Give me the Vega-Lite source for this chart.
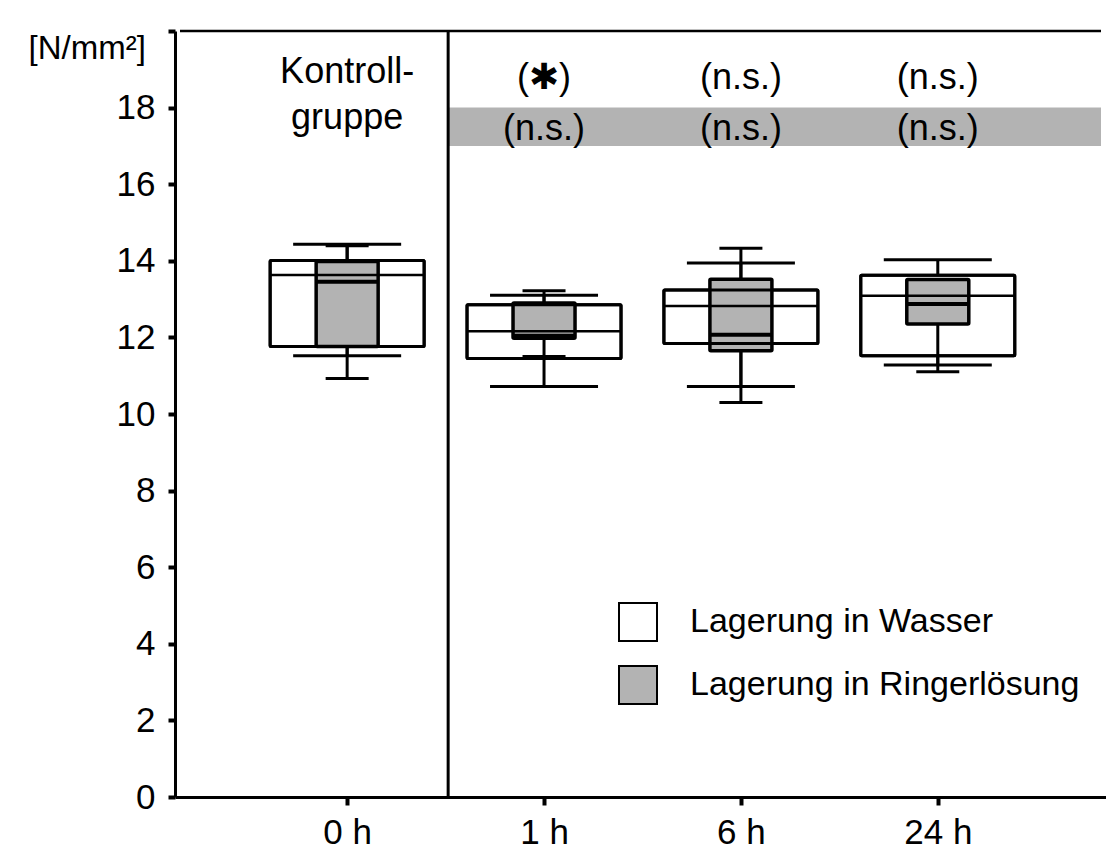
{
  "$schema": "https://vega.github.io/schema/vega-lite/v6.json",
  "width": 931,
  "height": 766,
  "autosize": {"type": "none"},
  "padding": {"left": 175, "top": 31, "right": 0, "bottom": 54},
  "background": "white",
  "config": {"view": {"stroke": null}, "font": "Liberation Sans"},
  "datasets": {
    "boxes": [
      {"zeit": "0 h", "pos": 0, "medium": "Lagerung in Wasser", "min": 11.52, "q1": 11.76, "median": 13.63, "q3": 14.01, "max": 14.43},
      {"zeit": "0 h", "pos": 0, "medium": "Lagerung in Ringerlösung", "min": 10.93, "q1": 11.76, "median": 13.45, "q3": 13.98, "max": 14.39},
      {"zeit": "1 h", "pos": 1, "medium": "Lagerung in Wasser", "min": 10.72, "q1": 11.45, "median": 12.16, "q3": 12.85, "max": 13.10},
      {"zeit": "1 h", "pos": 1, "medium": "Lagerung in Ringerlösung", "min": 11.50, "q1": 11.98, "median": 12.04, "q3": 12.90, "max": 13.22},
      {"zeit": "6 h", "pos": 2, "medium": "Lagerung in Wasser", "min": 10.72, "q1": 11.84, "median": 12.82, "q3": 13.24, "max": 13.94},
      {"zeit": "6 h", "pos": 2, "medium": "Lagerung in Ringerlösung", "min": 10.30, "q1": 11.65, "median": 12.07, "q3": 13.52, "max": 14.33},
      {"zeit": "24 h", "pos": 3, "medium": "Lagerung in Wasser", "min": 11.28, "q1": 11.52, "median": 13.09, "q3": 13.62, "max": 14.03},
      {"zeit": "24 h", "pos": 3, "medium": "Lagerung in Ringerlösung", "min": 11.10, "q1": 12.35, "median": 12.87, "q3": 13.51, "max": 13.51}
    ],
    "annot": [
      {"pos": 0, "y": 18.92, "label": "Kontroll-"},
      {"pos": 0, "y": 17.74, "label": "gruppe"},
      {"pos": 1, "y": 18.78, "label": "(✱)"},
      {"pos": 2, "y": 18.78, "label": "(n.s.)"},
      {"pos": 3, "y": 18.78, "label": "(n.s.)"},
      {"pos": 1, "y": 17.45, "label": "(n.s.)"},
      {"pos": 2, "y": 17.45, "label": "(n.s.)"},
      {"pos": 3, "y": 17.45, "label": "(n.s.)"}
    ],
    "band": [{"pos": 0.513, "pos2": 3.829, "y1": 17, "y2": 18}],
    "frame": [{"pos": -0.849, "pos2": 3.829, "y": 20}],
    "divider": [{"pos": 0.513}]
  },
  "encoding": {
    "x": {
      "field": "pos",
      "type": "quantitative",
      "scale": {"domain": [-0.849, 3.829], "nice": false, "zero": false},
      "axis": {
        "values": [0, 1, 2, 3],
        "labelExpr": "['0 h','1 h','6 h','24 h'][datum.value]",
        "title": null,
        "grid": false,
        "domainColor": "black",
        "domainWidth": 3,
        "tickColor": "black",
        "tickSize": 8,
        "tickWidth": 4,
        "labelFontSize": 35,
        "labelColor": "black",
        "labelPadding": 10,
        "labelFont": "Liberation Sans"
      }
    }
  },
  "layer": [
    {
      "data": {"name": "band"},
      "mark": {"type": "rect", "fill": "#b3b3b3"},
      "encoding": {
        "x2": {"field": "pos2"},
        "y": {
          "field": "y1",
          "type": "quantitative",
          "scale": {"domain": [0, 20], "nice": false, "zero": true},
          "axis": {
            "values": [0, 2, 4, 6, 8, 10, 12, 14, 16, 18, 20],
            "labelExpr": "datum.value == 20 ? '' : datum.label",
            "title": "[N/mm²]",
            "titleAngle": 0,
            "titleAlign": "left",
            "titleBaseline": "middle",
            "titleX": -147,
            "titleY": 17,
            "titleFontSize": 33,
            "titleFontWeight": "normal",
            "titleColor": "black",
            "titleFont": "Liberation Sans",
            "grid": false,
            "domainColor": "black",
            "domainWidth": 3,
            "tickColor": "black",
            "tickSize": 7,
            "tickWidth": 4,
            "labelFontSize": 35,
            "labelColor": "black",
            "labelPadding": 13,
            "labelFont": "Liberation Sans"
          }
        },
        "y2": {"field": "y2"}
      }
    },
    {
      "data": {"name": "frame"},
      "mark": {"type": "rule", "color": "black", "strokeWidth": 2.5},
      "encoding": {"x2": {"field": "pos2"}, "y": {"field": "y", "type": "quantitative"}}
    },
    {
      "data": {"name": "divider"},
      "mark": {"type": "rule", "color": "black", "strokeWidth": 3},
      "encoding": {}
    },
    {
      "data": {"name": "boxes"},
      "transform": [{"filter": "datum.medium == 'Lagerung in Wasser'"}],
      "mark": {"type": "rule", "color": "black", "strokeWidth": 3},
      "encoding": {"y": {"field": "min", "type": "quantitative"}, "y2": {"field": "max"}}
    },
    {
      "data": {"name": "boxes"},
      "transform": [{"filter": "datum.medium == 'Lagerung in Wasser'"}],
      "mark": {"type": "bar", "orient": "vertical", "width": 154, "stroke": "black", "strokeWidth": 3, "cornerRadius": 1},
      "encoding": {
        "y": {"field": "q1", "type": "quantitative"},
        "y2": {"field": "q3"},
        "fill": {
          "field": "medium",
          "type": "nominal",
          "scale": {"domain": ["Lagerung in Wasser", "Lagerung in Ringerlösung"], "range": ["#ffffff", "#b3b3b3"]},
          "legend": {
            "orient": "none",
            "legendX": 443,
            "legendY": 571,
            "title": null,
            "symbolType": "square",
            "symbolSize": 1444,
            "symbolStrokeColor": "black",
            "symbolStrokeWidth": 2,
            "symbolOpacity": 1,
            "labelFontSize": 34,
            "labelColor": "black",
            "labelOffset": 32,
            "rowPadding": 17,
            "labelFont": "Liberation Sans",
            "labelLimit": 600
          }
        }
      }
    },
    {
      "data": {"name": "boxes"},
      "transform": [{"filter": "datum.medium == 'Lagerung in Ringerlösung'"}],
      "mark": {"type": "rule", "color": "black", "strokeWidth": 3},
      "encoding": {"y": {"field": "min", "type": "quantitative"}, "y2": {"field": "max"}}
    },
    {
      "data": {"name": "boxes"},
      "transform": [{"filter": "datum.medium == 'Lagerung in Ringerlösung'"}],
      "mark": {"type": "bar", "orient": "vertical", "width": 62, "stroke": "black", "strokeWidth": 3.5, "cornerRadius": 1},
      "encoding": {
        "y": {"field": "q1", "type": "quantitative"},
        "y2": {"field": "q3"},
        "fill": {"field": "medium", "type": "nominal"}
      }
    },
    {
      "data": {"name": "boxes"},
      "transform": [{"filter": "datum.medium == 'Lagerung in Wasser'"}],
      "mark": {"type": "bar", "orient": "vertical", "width": 154, "fill": null, "fillOpacity": 0, "stroke": "black", "strokeWidth": 3, "cornerRadius": 1},
      "encoding": {"y": {"field": "q1", "type": "quantitative"}, "y2": {"field": "q3"}}
    },
    {
      "data": {"name": "boxes"},
      "transform": [{"filter": "datum.medium == 'Lagerung in Wasser'"}],
      "mark": {"type": "tick", "orient": "horizontal", "size": 154, "thickness": 2.5, "color": "black", "opacity": 1},
      "encoding": {"y": {"field": "median", "type": "quantitative"}}
    },
    {
      "data": {"name": "boxes"},
      "transform": [{"filter": "datum.medium == 'Lagerung in Ringerlösung'"}],
      "mark": {"type": "tick", "orient": "horizontal", "size": 62, "thickness": 4, "color": "black", "opacity": 1},
      "encoding": {"y": {"field": "median", "type": "quantitative"}}
    },
    {
      "data": {"name": "boxes"},
      "transform": [{"filter": "datum.medium == 'Lagerung in Wasser'"}, {"fold": ["min", "max"], "as": ["k", "v"]}],
      "mark": {"type": "tick", "orient": "horizontal", "size": 108, "thickness": 3, "color": "black", "opacity": 1},
      "encoding": {"y": {"field": "v", "type": "quantitative"}}
    },
    {
      "data": {"name": "boxes"},
      "transform": [{"filter": "datum.medium == 'Lagerung in Ringerlösung'"}, {"fold": ["min", "max"], "as": ["k", "v"]}],
      "mark": {"type": "tick", "orient": "horizontal", "size": 43, "thickness": 3, "color": "black", "opacity": 1},
      "encoding": {"y": {"field": "v", "type": "quantitative"}}
    },
    {
      "data": {"name": "annot"},
      "mark": {"type": "text", "fontSize": 36, "align": "center", "baseline": "middle", "color": "black", "font": "Liberation Sans"},
      "encoding": {"y": {"field": "y", "type": "quantitative"}, "text": {"field": "label"}}
    }
  ]
}
